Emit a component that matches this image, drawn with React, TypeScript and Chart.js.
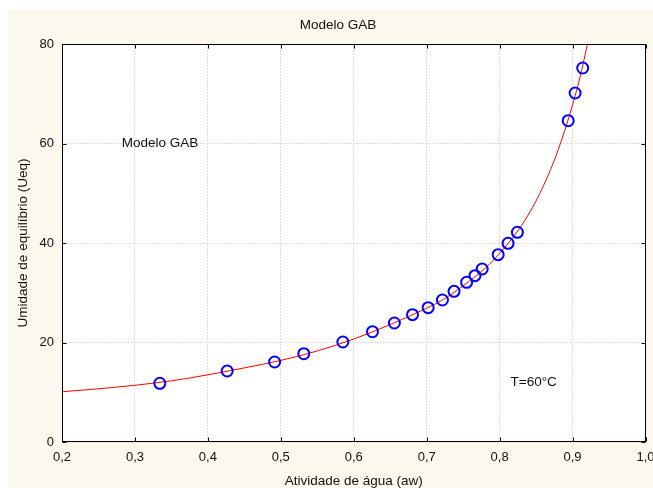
import React, { useEffect, useRef } from "react";
import { Chart, registerables } from "chart.js";

Chart.register(...registerables);

// Observed data (water activity vs equilibrium moisture)
const awObserved = [0.3341, 0.4265, 0.4915, 0.5315, 0.5851, 0.6257, 0.6557, 0.6806, 0.702, 0.7216, 0.7375, 0.7548, 0.7662, 0.7761, 0.798, 0.8116, 0.8244, 0.894, 0.9035, 0.9139];
const ueqObserved = [11.8, 14.27, 16.08, 17.75, 20.1, 22.17, 23.92, 25.59, 27.0, 28.54, 30.29, 32.1, 33.43, 34.77, 37.65, 39.94, 42.15, 64.58, 70.15, 75.18];

// GAB model curve
const awCurve = [0.2, 0.25, 0.3, 0.35, 0.4, 0.45, 0.5, 0.55, 0.6, 0.65, 0.7, 0.72, 0.75, 0.78, 0.8, 0.82, 0.83, 0.84, 0.85, 0.86, 0.87, 0.88, 0.89, 0.9, 0.91, 0.92, 0.925];
const ueqCurve = [10.1, 10.7, 11.4, 12.3, 13.5, 14.9, 16.4, 18.3, 20.7, 23.6, 26.9, 28.4, 31.4, 34.9, 37.9, 41.45, 43.47, 45.85, 48.46, 51.47, 54.79, 58.61, 62.91, 67.8, 73.2, 79.7, 83.2];

const xTickValues = [0.2, 0.3, 0.4, 0.5, 0.6, 0.7, 0.8, 0.9, 1.0];
const xTickLabels = ["0,2", "0,3", "0,4", "0,5", "0,6", "0,7", "0,8", "0,9", "1,0"];
const yTickValues = [0, 20, 40, 60, 80];
const yTickLabels = ["0", "20", "40", "60", "80"];

const titleText = "Modelo GAB";
const xTitle = "Atividade de água (aw)";
const yTitle = "Umidade de equilíbrio (Ueq)";
const noteModel = { text: "Modelo GAB", x: 0.282, y: 60 };
const noteTemp = { text: "T=60°C", x: 0.815, y: 12 };

const FONT = "'Liberation Sans', Arial, Helvetica, sans-serif";
const CREAM = "#fdf8ed";
const TEXT = "#111111";
const GRID = "#dedede";

const framePlugin = {
  id: "framePlugin",
  beforeDraw(chart: any) {
    const { ctx, chartArea: a, width, height } = chart;
    ctx.save();
    ctx.fillStyle = CREAM;
    ctx.fillRect(0, 0, width, height);
    ctx.fillStyle = "#ffffff";
    ctx.fillRect(a.left, a.top, a.right - a.left, a.bottom - a.top);
    ctx.restore();
  },
  afterDraw(chart: any) {
    const { ctx, chartArea: a, scales } = chart;
    const xs = scales.x;
    const ys = scales.y;
    ctx.save();
    ctx.strokeStyle = "#000";
    ctx.lineWidth = 1;
    const l = Math.round(a.left) + 0.5;
    const r = Math.round(a.right) - 0.5;
    const t = Math.round(a.top) + 0.5;
    const b = Math.round(a.bottom) - 0.5;
    ctx.strokeRect(l, t, r - l, b - t);
    const TL = 4;
    ctx.beginPath();
    xTickValues.forEach((v) => {
      const px = Math.round(xs.getPixelForValue(v)) + 0.5;
      ctx.moveTo(px, t);
      ctx.lineTo(px, t + TL);
      ctx.moveTo(px, b);
      ctx.lineTo(px, b - TL);
    });
    yTickValues.forEach((v) => {
      const py = Math.round(ys.getPixelForValue(v)) + 0.5;
      ctx.moveTo(l, py);
      ctx.lineTo(l + TL, py);
      ctx.moveTo(r, py);
      ctx.lineTo(r - TL, py);
    });
    ctx.stroke();
    ctx.fillStyle = TEXT;
    ctx.font = `13.5px ${FONT}`;
    ctx.textAlign = "center";
    ctx.textBaseline = "middle";
    ctx.fillText(titleText, 330, 15);
    ctx.textAlign = "left";
    [noteModel, noteTemp].forEach((n) => {
      ctx.fillText(n.text, xs.getPixelForValue(n.x), ys.getPixelForValue(n.y));
    });
    ctx.restore();
  },
};

export default function App() {
  const ref = useRef<HTMLCanvasElement | null>(null);

  useEffect(() => {
    if (!ref.current) return;
    const chart = new Chart(ref.current, {
      type: "scatter",
      data: {
        datasets: [
          {
            label: "Observado",
            data: awObserved.map((x, i) => ({ x, y: ueqObserved[i] })),
            showLine: false,
            pointStyle: "circle",
            pointRadius: 5.5,
            pointHoverRadius: 5.5,
            pointBorderWidth: 2,
            borderColor: "#0000ff",
            pointBorderColor: "#0000ff",
            backgroundColor: "rgba(0,0,0,0)",
            pointBackgroundColor: "rgba(0,0,0,0)",
            clip: 0,
          },
          {
            label: "GAB",
            data: awCurve.map((x, i) => ({ x, y: ueqCurve[i] })),
            showLine: true,
            pointRadius: 0,
            pointHoverRadius: 0,
            borderColor: "#ff0000",
            borderWidth: 1,
            backgroundColor: "#ff0000",
            cubicInterpolationMode: "monotone",
            fill: false,
            clip: 0,
          },
        ],
      },
      options: {
        animation: false,
        responsive: false,
        events: [],
        layout: { padding: { top: 34, right: 4, left: 0, bottom: 0 } },
        plugins: {
          legend: { display: false },
          title: { display: false },
          tooltip: { enabled: false },
        },
        scales: {
          x: {
            type: "linear",
            min: 0.2,
            max: 1.0,
            border: { display: false, dash: [2, 1] },
            grid: { color: GRID, lineWidth: 1, drawTicks: false },
            ticks: {
              padding: 8,
              color: TEXT,
              font: { family: FONT, size: 13 },
              maxRotation: 0,
              autoSkip: false,
              callback: (_v: any, i: number) => xTickLabels[i],
            },
            afterBuildTicks: (s: any) => {
              s.ticks = xTickValues.map((v) => ({ value: v }));
            },
            afterFit: (s: any) => {
              s.height = 46;
              s.paddingLeft = 0;
              s.paddingRight = 0;
            },
            title: {
              display: true,
              text: xTitle,
              color: TEXT,
              font: { family: FONT, size: 13.5, lineHeight: 1.0 },
              padding: { top: 0, bottom: 0 },
            },
          },
          y: {
            type: "linear",
            min: 0,
            max: 80,
            border: { display: false, dash: [2, 1] },
            grid: { color: GRID, lineWidth: 1, drawTicks: false },
            ticks: {
              padding: 8,
              color: TEXT,
              font: { family: FONT, size: 13 },
              autoSkip: false,
              callback: (_v: any, i: number) => yTickLabels[i],
            },
            afterBuildTicks: (s: any) => {
              s.ticks = yTickValues.map((v) => ({ value: v }));
            },
            afterFit: (s: any) => {
              s.width = 54;
              s.paddingTop = 0;
              s.paddingBottom = 0;
            },
            title: {
              display: true,
              text: yTitle,
              color: TEXT,
              font: { family: FONT, size: 13.5 },
              padding: { top: 7, bottom: 0 },
            },
          },
        },
      },
      plugins: [framePlugin],
    } as any);
    return () => chart.destroy();
  }, []);

  return (
    <div style={{ position: "fixed", left: 8, top: 10, width: 645, height: 478, background: CREAM }}>
      <canvas ref={ref} width={645} height={478} style={{ display: "block", width: 645, height: 478 }} />
    </div>
  );
}
